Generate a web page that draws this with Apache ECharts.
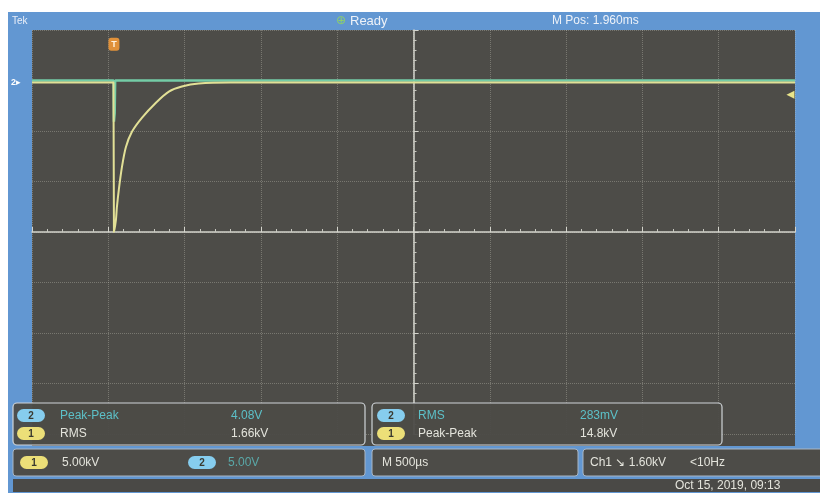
<!DOCTYPE html>
<html>
<head>
<meta charset="utf-8">
<script src="https://cdn.jsdelivr.net/npm/echarts@6/dist/echarts.min.js"></script>
<style>
html,body{margin:0;padding:0;background:#ffffff;}
#c{width:820px;height:497px;}
</style>
</head>
<body>
<div id="c"></div>
<script>
// Channel 1 trace (time in ms, value in kV)
const ch1Time = [-2.5, -1.966, -1.963, -1.950, -1.944, -1.931, -1.911, -1.885, -1.846, -1.780, -1.688, -1.603, -1.518, -1.407, -1.2, 2.5];
const ch1kV   = [14.8, 14.8, 0.0, 1.2, 2.4, 4.2, 6.4, 8.4, 9.9, 11.3, 12.8, 13.9, 14.4, 14.7, 14.8, 14.8];
// Channel 2 trace (time in ms, value in V)
const ch2Time = [-2.5, -1.965, -1.963, -1.958, -1.955, 2.5];
const ch2V    = [0, 0, -4.08, -3.2, 0, 0];
// Axis settings (oscilloscope divisions)
const timePerDiv = 0.5;   // M 500µs
const ch1PerDiv = 5;      // 5.00kV
const ch2PerDiv = 5;      // 5.00V
// Readouts
const topTexts = {tek: 'Tek', state: 'Ready', mpos: 'M Pos: 1.960ms'};
const meas1 = [['2', 'Peak-Peak', '4.08V'], ['1', 'RMS', '1.66kV']];
const meas2 = [['2', 'RMS', '283mV'], ['1', 'Peak-Peak', '14.8kV']];
const scaleTexts = {ch1: '5.00kV', ch2: '5.00V', time: 'M 500µs', trig: 'Ch1 ↘ 1.60kV', freq: '<10Hz', date: 'Oct 15, 2019, 09:13'};

const zip = (a, b) => a.map((v, i) => [v, b[i]]);

const FONT = 'Liberation Sans, DejaVu Sans, sans-serif';
const BLUE = '#6297d2';
const DARK = '#4d4c48';
const YEL = '#e2e096';
const CYAN = '#5cc0c8';

function badge(x, y, label, color) {
  return [
    {type: 'rect', z: 120, shape: {x: x, y: y, width: 28, height: 13, r: 6.5}, style: {fill: color}},
    {type: 'text', z: 121, style: {x: x + 14, y: y + 7, text: label, fill: '#3a3a30', font: 'bold 10px ' + FONT, textAlign: 'center', textVerticalAlign: 'middle'}}
  ];
}
function txt(x, y, s, color, size) {
  return {type: 'text', z: 110, style: {x: x, y: y, text: s, fill: color, font: (size || 13) + 'px ' + FONT, textVerticalAlign: 'middle'}};
}

const graphics = [
  // frame
  {type: 'rect', z: -20, shape: {x: 8, y: 12, width: 812, height: 481}, style: {fill: BLUE}},
  {type: 'rect', z: -19, shape: {x: 32, y: 30, width: 763, height: 416}, style: {fill: DARK}},
  // top bar texts
  txt(12, 21, topTexts.tek, '#e8eef8', 10),
  {type: 'text', z: 110, style: {x: 336, y: 21, text: '⊕', fill: '#8ed06a', font: '12px ' + FONT, textVerticalAlign: 'middle'}},
  txt(350, 21, topTexts.state, '#eef2f8', 13),
  txt(552, 21, topTexts.mpos, '#eef2f8', 12),
  // channel 2 ground marker on left strip
  {type: 'text', z: 110, style: {x: 11, y: 83, text: '2▸', fill: '#ffffff', font: 'bold 9px ' + FONT, textVerticalAlign: 'middle'}},
  // measurement boxes
  {type: 'rect', z: 100, shape: {x: 13, y: 403, width: 352, height: 42, r: 4}, style: {fill: 'rgba(76,75,71,0.95)', stroke: '#cfd4d8', lineWidth: 1.2}},
  {type: 'rect', z: 100, shape: {x: 372, y: 403, width: 350, height: 42, r: 4}, style: {fill: 'rgba(76,75,71,0.95)', stroke: '#cfd4d8', lineWidth: 1.2}},
  ...badge(17, 409, meas1[0][0], '#86cdee'),
  txt(60, 416, meas1[0][1], CYAN, 12),
  txt(231, 416, meas1[0][2], CYAN, 12),
  ...badge(17, 427, meas1[1][0], '#ecdf78'),
  txt(60, 434, meas1[1][1], '#e4e4dc', 12),
  txt(231, 434, meas1[1][2], '#e4e4dc', 12),
  ...badge(377, 409, meas2[0][0], '#86cdee'),
  txt(418, 416, meas2[0][1], CYAN, 12),
  txt(580, 416, meas2[0][2], CYAN, 12),
  ...badge(377, 427, meas2[1][0], '#ecdf78'),
  txt(418, 434, meas2[1][1], '#e4e4dc', 12),
  txt(580, 434, meas2[1][2], '#e4e4dc', 12),
  // bottom rows
  {type: 'rect', z: 100, shape: {x: 13, y: 449, width: 352, height: 27, r: 3}, style: {fill: '#4d4c48', stroke: '#aab6c4', lineWidth: 1}},
  {type: 'rect', z: 100, shape: {x: 372, y: 449, width: 206, height: 27, r: 3}, style: {fill: '#4d4c48', stroke: '#aab6c4', lineWidth: 1}},
  {type: 'rect', z: 100, shape: {x: 583, y: 449, width: 240, height: 27, r: 3}, style: {fill: '#4d4c48', stroke: '#aab6c4', lineWidth: 1}},
  {type: 'rect', z: 100, shape: {x: 13, y: 479, width: 810, height: 13}, style: {fill: '#4a4946'}},
  ...badge(20, 456, '1', '#ecdf78'),
  txt(62, 463, scaleTexts.ch1, '#e4e4dc', 12),
  ...badge(188, 456, '2', '#86cdee'),
  txt(228, 463, scaleTexts.ch2, '#5aa8a8', 12),
  txt(382, 463, scaleTexts.time, '#e4e4dc', 12),
  txt(590, 463, scaleTexts.trig, '#e4e4dc', 12),
  txt(690, 463, scaleTexts.freq, '#e4e4dc', 12),
  txt(675, 486, scaleTexts.date, '#e4e4dc', 12)
];

const chart = echarts.init(document.getElementById('c'), null, {renderer: 'canvas'});
chart.setOption({
  backgroundColor: '#ffffff',
  animation: false,
  graphic: graphics,
  grid: {left: 32, right: 25, top: 30, bottom: 63, containLabel: false},
  xAxis: {
    type: 'value', min: -5 * timePerDiv, max: 5 * timePerDiv, interval: timePerDiv,
    axisLine: {onZero: true, onZeroAxisIndex: 0, lineStyle: {color: '#d4d4cc', width: 1.5}},
    axisTick: {show: true, inside: true, length: 5, lineStyle: {color: '#d4d4cc'}},
    minorTick: {show: true, splitNumber: 5, length: 3, lineStyle: {color: '#c8c8c0'}},
    axisLabel: {show: false},
    splitLine: {show: true, lineStyle: {type: 'dotted', color: 'rgba(200,200,190,0.35)', width: 1}}
  },
  yAxis: [
    {
      type: 'value', min: -4 * ch1PerDiv, max: 4 * ch1PerDiv, interval: ch1PerDiv,
      axisLine: {onZero: true, lineStyle: {color: '#d4d4cc', width: 1.5}},
      axisTick: {show: true, inside: true, length: 5, lineStyle: {color: '#d4d4cc'}},
      minorTick: {show: true, splitNumber: 5, length: 3, lineStyle: {color: '#c8c8c0'}},
      axisLabel: {show: false},
      splitLine: {show: true, lineStyle: {type: 'dotted', color: 'rgba(200,200,190,0.35)', width: 1}}
    },
    {
      type: 'value', min: -7 * ch2PerDiv, max: 1 * ch2PerDiv, show: false,
      axisLine: {show: false}, splitLine: {show: false}
    }
  ],
  series: [
    {
      name: 'Ch2', type: 'line', yAxisIndex: 1, data: zip(ch2Time, ch2V),
      showSymbol: false, lineStyle: {color: '#74cca6', width: 2.5}, z: 3
    },
    {
      name: 'Ch1', type: 'line', yAxisIndex: 0, data: zip(ch1Time, ch1kV),
      showSymbol: false, smooth: 0.3, lineStyle: {color: YEL, width: 2}, z: 4,
      markPoint: {
        silent: true,
        data: [
          {coord: [-1.963, 18.6], symbol: 'roundRect', symbolSize: [11, 13],
           itemStyle: {color: '#e0913a'},
           label: {show: true, formatter: 'T', color: '#fff3e0', fontSize: 9, fontWeight: 'bold', position: 'inside'}},
          {coord: [2.47, 13.6], symbol: 'triangle', symbolRotate: 90, symbolSize: 8,
           itemStyle: {color: '#e8e48a'}, label: {show: false}}
        ]
      }
    }
  ]
});
</script>
</body>
</html>
